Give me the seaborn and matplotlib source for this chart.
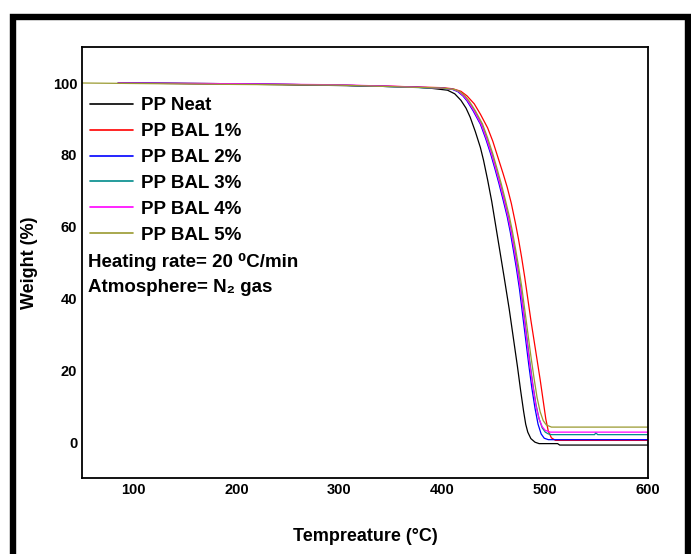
import pandas as pd
import matplotlib.pyplot as plt
import seaborn as sns
from matplotlib.patches import Rectangle

# TGA curves (temperature in C, weight in %)
labels = ['PP Neat', 'PP BAL 1%', 'PP BAL 2%', 'PP BAL 3%', 'PP BAL 4%', 'PP BAL 5%']
colors = ['black', 'red', 'blue', '#008b8b', 'magenta', '#9a9a30']

t_neat = [85, 200, 300, 372, 390, 405, 412, 418, 423, 427, 432, 437, 440, 444, 448, 452, 456,
          460, 465, 469, 473, 476, 479, 481, 483, 486, 490, 494, 512, 514, 600]
w_neat = [100, 99.7, 99.3, 98.9, 98.5, 98.0, 97.0, 95.2, 93.0, 90.5, 86.5, 82.0, 78.5, 73.0, 67.0, 60.0, 53.0,
          46.0, 37.0, 29.0, 21.0, 14.5, 8.5, 5.0, 2.8, 1.0, 0.0, -0.4, -0.4, -0.8, -0.8]

t_bal1 = [85, 200, 300, 350, 400, 410, 418, 424, 431, 437, 444, 449, 454, 459, 463, 467, 471, 474, 477,
          480, 483, 486, 489, 492, 495, 498, 500.5, 503, 506, 510, 600]
w_bal1 = [100, 99.8, 99.4, 99.1, 98.7, 98.4, 97.7, 96.4, 94.2, 91.3, 87.5, 83.8, 79.3, 74.8, 71.0, 66.5, 61.0, 56.5, 51.5,
          46.0, 40.0, 34.0, 28.5, 23.0, 17.5, 11.5, 6.5, 3.0, 1.2, 0.5, 0.5]

t_bal2 = [85, 200, 300, 350, 400, 410, 415, 420, 424, 430, 437, 442, 447, 451, 455, 459, 463, 466, 469,
          472, 475, 478, 481, 484, 487, 490, 493, 496, 499, 503, 600]
w_bal2 = [100, 99.8, 99.4, 99.0, 98.6, 98.2, 97.6, 96.4, 95.0, 92.2, 88.5, 84.6, 80.2, 76.2, 72.0, 67.5, 62.8, 58.5, 53.5,
          48.3, 42.5, 35.5, 28.5, 21.5, 15.0, 9.5, 5.0, 2.3, 1.1, 0.7, 0.7]

t_bal3 = [85, 200, 300, 350, 400, 411, 416, 421, 425, 431, 438, 443, 448, 452, 456, 460, 464, 467, 470,
          473, 476, 479, 482, 485, 488, 491, 494, 497, 500, 503, 506, 548, 549, 551, 600]
w_bal3 = [100, 99.8, 99.4, 99.0, 98.5, 98.2, 97.6, 96.4, 95.0, 92.3, 88.6, 84.7, 80.3, 76.3, 72.2, 67.7, 63.0, 58.8, 54.0,
          49.0, 43.3, 36.5, 29.5, 22.5, 16.0, 10.5, 6.5, 4.0, 2.8, 2.3, 2.1, 2.1, 2.6, 2.1, 2.1]

t_bal4 = [85, 200, 300, 350, 400, 411, 416, 421, 425, 431, 438, 443, 448, 452, 456, 460, 464, 467, 470,
          473, 476, 479, 482, 485, 488, 491, 494, 497, 500, 505, 600]
w_bal4 = [100, 99.8, 99.5, 99.1, 98.6, 98.2, 97.6, 96.3, 94.9, 92.1, 88.3, 84.4, 80.0, 76.0, 71.8, 67.3, 62.5, 58.3, 53.3,
          48.0, 42.3, 35.5, 28.5, 21.5, 15.5, 10.0, 6.5, 4.3, 3.3, 2.8, 2.8]

t_bal5 = [50, 200, 300, 350, 400, 412, 417, 422, 426, 432, 439, 444, 449, 453, 457, 461, 465, 468, 471,
          474, 477, 480, 483, 486, 489, 492, 495, 498, 501, 506, 600]
w_bal5 = [100, 99.6, 99.4, 99.0, 98.6, 98.2, 97.6, 96.4, 95.0, 92.3, 88.6, 84.7, 80.3, 76.3, 72.2, 67.7, 63.0, 58.8, 54.0,
          49.0, 43.5, 37.0, 30.5, 24.0, 18.0, 12.5, 8.5, 6.0, 4.8, 4.2, 4.2]

series_t = [t_neat, t_bal1, t_bal2, t_bal3, t_bal4, t_bal5]
series_w = [w_neat, w_bal1, w_bal2, w_bal3, w_bal4, w_bal5]

frames = []
for name, t, w in zip(labels, series_t, series_w):
    frames.append(pd.DataFrame({'Temperature': t, 'Weight': w, 'Sample': name}))
df = pd.concat(frames, ignore_index=True)

sns.set_style('white')
plt.rcParams['font.family'] = ['Liberation Sans', 'DejaVu Sans']
plt.rcParams['font.weight'] = 'bold'
plt.rcParams['text.color'] = 'black'
plt.rcParams['axes.labelcolor'] = 'black'
plt.rcParams['xtick.color'] = 'black'
plt.rcParams['ytick.color'] = 'black'

fig = plt.figure(figsize=(6.91, 5.54), dpi=100)
ax = fig.add_axes([0.119, 0.137, 0.819, 0.778])

sns.lineplot(data=df, x='Temperature', y='Weight', hue='Sample', hue_order=labels,
             palette=colors, sort=False, estimator=None, linewidth=0.9, ax=ax)

ax.set_xlim(50, 600)
ax.set_ylim(-10, 110)
ax.set_xticks([100, 200, 300, 400, 500, 600])
ax.set_yticks([0, 20, 40, 60, 80, 100])
ax.tick_params(labelsize=10.5, length=2, width=1, pad=1.5)
for lab in ax.get_xticklabels() + ax.get_yticklabels():
    lab.set_fontweight('bold')
for s in ax.spines.values():
    s.set_color('black')
    s.set_linewidth(1.3)

ax.set_xlabel('Tempreature (°C)', fontsize=13, fontweight='bold', labelpad=22)
ax.set_ylabel('Weight (%)', fontsize=13, fontweight='bold', labelpad=11)

leg = ax.legend(loc='upper left', bbox_to_anchor=(0.014, 0.884), frameon=False,
                fontsize=13.5, handlelength=2.3, handletextpad=0.4,
                labelspacing=0.47, borderpad=0, borderaxespad=0)
for line in leg.get_lines():
    line.set_linewidth(1.2)

ax.text(0.011, 0.501, 'Heating rate= 20 ⁰C/min', transform=ax.transAxes,
        fontsize=13.5, fontweight='bold', va='center', ha='left')
ax.text(0.011, 0.443, 'Atmosphere= N₂ gas', transform=ax.transAxes,
        fontsize=13.5, fontweight='bold', va='center', ha='left')

# thick outer frame (open at the bottom, as in the source image)
fig.add_artist(Rectangle((13 / 691, -0.2), (688 - 13) / 691, 1.2 - 17 / 554,
                         transform=fig.transFigure, fill=False,
                         edgecolor='black', linewidth=4.6, clip_on=False))

fig.savefig('out.png', dpi=100)
